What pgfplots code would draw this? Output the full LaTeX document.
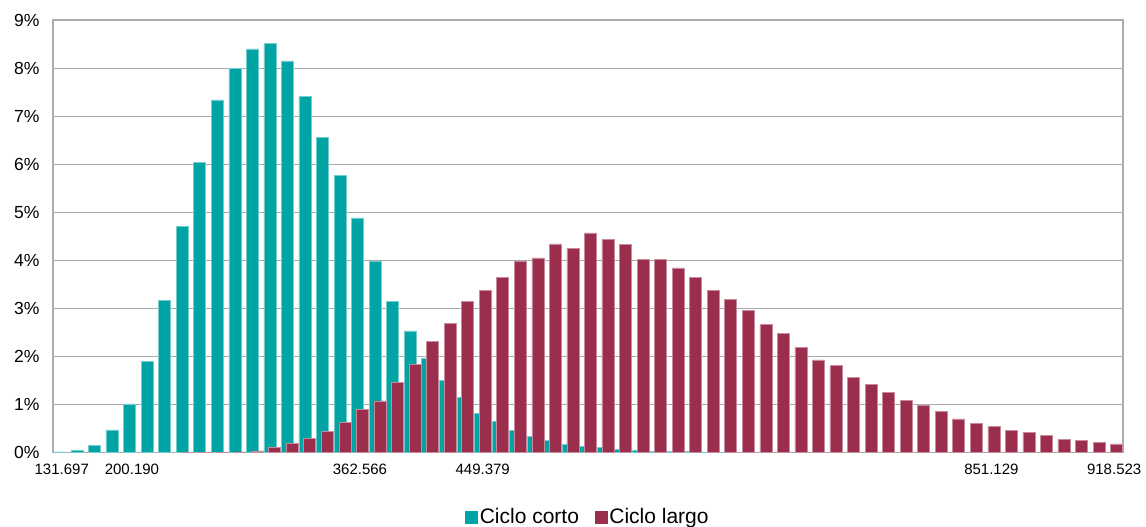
\documentclass[border=0pt]{standalone}
\usepackage{fontspec}
\setmainfont{Liberation Sans}
\usepackage{pgfplots}
\pgfplotsset{compat=1.18}
\definecolor{tealc}{RGB}{0,164,164}
\definecolor{maroonc}{RGB}{155,45,77}
\definecolor{gridc}{RGB}{172,172,172}
\begin{document}
\begin{tikzpicture}
\useasboundingbox (0pt,0pt) rectangle (1146pt,527pt);
\begin{axis}[
  at={(53pt,74.5pt)}, anchor=south west,
  scale only axis, width=1070pt, height=432.5pt,
  xmin=-0.5, xmax=60.5, ymin=0, ymax=9,
  xtick={0,4,17,24,53,60},
  xticklabels={131.697,200.190,362.566,449.379,851.129,918.523},
  ytick={0,1,2,3,4,5,6,7,8,9},
  yticklabel={\pgfmathprintnumber{\tick}\%},
  /pgf/number format/assume math mode=true,
  major tick length=0pt,
  ymajorgrids, major grid style={gridc, line width=1pt},
  axis line style={gridc, line width=1.5pt},
  yticklabel style={font=\fontsize{17.5}{20}\selectfont, xshift=-10pt},
  xticklabel style={font=\fontsize{15}{18}\selectfont, yshift=-8pt},
  legend style={at={(0.5,-0.149)}, anchor=center, draw=none, fill=none,
    legend columns=2, font=\fontsize{21}{24}\selectfont,
    /tikz/every even column/.append style={column sep=14pt}},
]
\addplot[ybar, bar width=0.684, bar shift=-0.137, fill=tealc, draw=tealc!55!white, line width=0.5pt, forget plot] coordinates {
(0,0.014) (1,0.05) (2,0.15) (3,0.47) (4,1.01) (5,1.90) (6,3.17) (7,4.71) (8,6.03) (9,7.34)
(10,7.99) (11,8.40) (12,8.52) (13,8.15) (14,7.41) (15,6.55) (16,5.76) (17,4.88) (18,3.99) (19,3.15)
(20,2.53) (21,1.96) (22,1.50) (23,1.14) (24,0.81) (25,0.65) (26,0.46) (27,0.34) (28,0.25) (29,0.17)
(30,0.135) (31,0.10) (32,0.06) (33,0.045) (34,0.03) (35,0.025) (36,0.02) (37,0.01) (38,0.006)
};
\addplot[ybar, bar width=0.684, bar shift=0.137, fill=maroonc, draw=maroonc!55!white, line width=0.5pt, forget plot] coordinates {
(7,0.005) (8,0.006) (9,0.01) (10,0.015) (11,0.035) (12,0.10) (13,0.19) (14,0.29) (15,0.445) (16,0.625)
(17,0.895) (18,1.075) (19,1.455) (20,1.83) (21,2.31) (22,2.69) (23,3.15) (24,3.37) (25,3.64) (26,3.99)
(27,4.05) (28,4.34) (29,4.25) (30,4.57) (31,4.44) (32,4.33) (33,4.025) (34,4.015) (35,3.84) (36,3.64)
(37,3.37) (38,3.19) (39,2.95) (40,2.67) (41,2.48) (42,2.19) (43,1.93) (44,1.81) (45,1.57) (46,1.41)
(47,1.25) (48,1.08) (49,0.98) (50,0.86) (51,0.70) (52,0.60) (53,0.55) (54,0.46) (55,0.42) (56,0.36)
(57,0.28) (58,0.26) (59,0.21) (60,0.18)
};
\addlegendimage{legend image code/.code={\fill[tealc] (0pt,-6pt) rectangle (12pt,6pt);}}
\addlegendentry{Ciclo corto}
\addlegendimage{legend image code/.code={\fill[maroonc] (0pt,-6pt) rectangle (12pt,6pt);}}
\addlegendentry{Ciclo largo}
\end{axis}
\end{tikzpicture}
\end{document}
